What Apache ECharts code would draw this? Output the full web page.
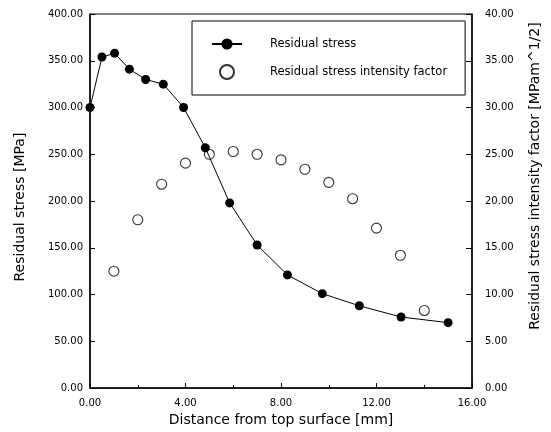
<!DOCTYPE html>
<html><head><meta charset="utf-8">
<script src="https://cdn.jsdelivr.net/npm/echarts@6/dist/echarts.min.js"></script>
<style>html,body{margin:0;padding:0;background:#fff}#c{width:551px;height:432px}</style>
</head><body><div id="c"></div>
<script>
const depthStress = [0, 0.5, 1.03, 1.65, 2.33, 3.07, 3.92, 4.83, 5.85, 7.0, 8.27, 9.73, 11.28, 13.03, 15.0];
const stress = [300, 354, 358, 341, 330, 325, 300, 257, 198, 153, 121, 101, 88, 76, 70];
const depthK = [1, 2, 3, 4, 5, 6, 7, 8, 9, 10, 11, 12, 13, 14];
const kValues = [12.5, 18.0, 21.8, 24.05, 25.0, 25.3, 25.0, 24.4, 23.4, 22.0, 20.25, 17.1, 14.2, 8.3];
const seriesNames = ['Residual stress', 'Residual stress intensity factor'];
const axisNames = ['Distance from top surface [mm]', 'Residual stress [MPa]', 'Residual stress intensity factor [MPam^1/2]'];

const font = 'DejaVu Sans, sans-serif';
const fmt = v => v.toFixed(2);
const chart = echarts.init(document.getElementById('c'), null, {renderer: 'canvas'});
chart.setOption({
  animation: false,
  backgroundColor: '#fff',
  textStyle: {fontFamily: font, color: '#000'},
  grid: {left: 90, right: 79, top: 14, bottom: 38, show: true, borderColor: '#000', borderWidth: 1, containLabel: false},
  legend: {
    orient: 'vertical', left: 192, top: 21,
    padding: [17, 18, 15, 19],
    itemWidth: 30, itemHeight: 14, itemGap: 14,
    borderColor: '#000', borderWidth: 1,
    textStyle: {fontSize: 11.5, color: '#000', fontFamily: font, padding: [0, 0, 0, 23]},
    data: seriesNames
  },
  xAxis: {
    type: 'value', min: 0, max: 16, interval: 4,
    name: axisNames[0], nameLocation: 'middle', nameGap: 23,
    nameTextStyle: {fontSize: 14, color: '#000', fontFamily: font},
    axisLine: {lineStyle: {color: '#000', width: 1.5}},
    axisTick: {inside: true, length: 5, lineStyle: {color: '#000'}},
    minorTick: {show: true, splitNumber: 2, length: 3, lineStyle: {color: '#000'}},
    splitLine: {show: false},
    axisLabel: {formatter: fmt, fontSize: 10, color: '#000', margin: 10, fontFamily: font}
  },
  yAxis: [{
    type: 'value', min: 0, max: 400, interval: 50,
    name: axisNames[1], nameLocation: 'middle', nameGap: 63, nameRotate: 90,
    nameTextStyle: {fontSize: 14, color: '#000', fontFamily: font, padding: [0, 12, 0, 0]},
    axisLine: {show: true, lineStyle: {color: '#000', width: 1.5}},
    axisTick: {show: true, inside: true, length: 5, lineStyle: {color: '#000'}},
    splitLine: {show: false},
    axisLabel: {formatter: fmt, fontSize: 10, color: '#000', margin: 7, fontFamily: font}
  }, {
    type: 'value', min: 0, max: 40, interval: 5, position: 'right',
    name: axisNames[2], nameLocation: 'middle', nameGap: 56, nameRotate: 90,
    nameTextStyle: {fontSize: 14, color: '#000', fontFamily: font, padding: [0, 0, 0, 50]},
    axisLine: {show: true, lineStyle: {color: '#000', width: 1.5}},
    axisTick: {show: true, inside: true, length: 6, lineStyle: {color: '#000'}},
    splitLine: {show: false},
    axisLabel: {formatter: fmt, fontSize: 10, color: '#000', margin: 13, fontFamily: font}
  }],
  series: [{
    name: seriesNames[0], type: 'line', yAxisIndex: 0,
    data: depthStress.map((d, i) => [d, stress[i]]),
    symbol: 'circle', symbolSize: 9, clip: false,
    lineStyle: {color: '#000', width: 1},
    itemStyle: {color: '#000'}
  }, {
    name: seriesNames[1], type: 'scatter', yAxisIndex: 1,
    data: depthK.map((d, i) => [d, kValues[i]]),
    symbol: 'circle', symbolSize: 10, clip: false,
    itemStyle: {color: '#fff', borderColor: '#000', borderWidth: 1.1}
  }]
});
</script></body></html>
